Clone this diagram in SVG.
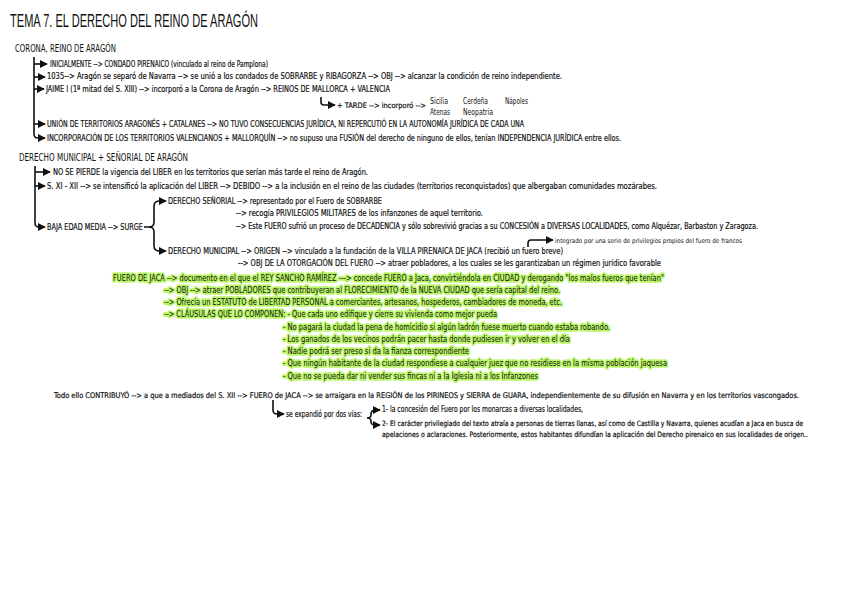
<svg xmlns="http://www.w3.org/2000/svg" width="848" height="600" viewBox="0 0 848 600">
<style>
text{font-family:"Liberation Sans Narrow","DejaVu Sans Condensed","Liberation Sans",Arial,sans-serif;fill:#111}
.t{font-size:9.5px;stroke:#111;stroke-width:0.2px}
.s{font-size:6.5px}
.k{font-size:8px}
.h{font-size:11px}
.ttl{font-size:19px;font-family:"Liberation Sans Narrow","Liberation Sans",sans-serif}
.g{stroke:#b9f565;stroke-width:3.6px;stroke-linejoin:round;paint-order:stroke}
.c{fill:none;stroke:#111;stroke-width:1.6}
</style>
<defs>
<marker id="ah" viewBox="0 0 10 10" refX="9" refY="5" markerWidth="5" markerHeight="5" orient="auto" markerUnits="strokeWidth"><path d="M0,0L10,5L0,10z" fill="#111"/></marker>
</defs>
<rect width="848" height="600" fill="#fff"/>
<g id="title"><text class="ttl" x="10" y="27" textLength="248" lengthAdjust="spacingAndGlyphs">TEMA 7. EL DERECHO DEL REINO DE ARAGÓN</text></g>

<g id="connectors">
<path class="c" d="M34,57V134Q34,138 38,138H45" marker-end="url(#ah)"/>
<path class="c" d="M34,64H47" marker-end="url(#ah)"/>
<path class="c" d="M34,77H45" marker-end="url(#ah)"/>
<path class="c" d="M34,89H44" marker-end="url(#ah)"/>
<path class="c" d="M34,124H45" marker-end="url(#ah)"/>
<path class="c" d="M321,97V102Q321,105 324,105H335" marker-end="url(#ah)"/>
<path class="c" d="M35,166V223Q35,227 39,227H45" marker-end="url(#ah)"/>
<path class="c" d="M35,172H50" marker-end="url(#ah)"/>
<path class="c" d="M35,186H45" marker-end="url(#ah)"/>
<path class="c" d="M144,227H149Q154,227 154,222V206Q154,201 160,201H166" marker-end="url(#ah)"/>
<path class="c" d="M149,227Q154,227 154,232V246Q154,251 160,251H166" marker-end="url(#ah)"/>
<path class="c" d="M528,247V243Q528,240 531,240H553" marker-end="url(#ah)"/>
<path class="c" d="M273,400V410Q273,414 277,414H284" marker-end="url(#ah)"/>
<path class="c" d="M380,410H376Q371,410 371,414V415Q371,418 367,418Q371,418 371,421V422Q371,425 376,425H380" marker-end="url(#ah)"/>
<path class="c" d="M376,410H380" marker-end="url(#ah)"/>
</g>

<g id="corona">
<text class="h" x="15" y="52" textLength="101" lengthAdjust="spacingAndGlyphs">CORONA, REINO DE ARAGÓN</text>
</g>
<g id="inicialmente"><text class="t" x="50" y="67" textLength="218" lengthAdjust="spacingAndGlyphs">INICIALMENTE --&gt; CONDADO PIRENAICO (vinculado al reino de Pamplona)</text></g>
<g id="n1035"><text class="t" x="47" y="79" textLength="515" lengthAdjust="spacingAndGlyphs">1035--&gt; Aragón se separó de Navarra --&gt; se unió a los condados de SOBRARBE y RIBAGORZA  --&gt; OBJ --&gt; alcanzar la condición de reino independiente.</text></g>
<g id="jaime"><text class="t" x="46" y="92" textLength="344" lengthAdjust="spacingAndGlyphs">JAIME I (1ª mitad del S. XIII) --&gt; incorporó a la Corona de Aragón --&gt; REINOS DE MALLORCA + VALENCIA</text></g>
<g id="tarde">
<text class="t" x="337" y="108" textLength="89" lengthAdjust="spacingAndGlyphs" style="font-size:7.6px">+ TARDE --&gt; incorporó --&gt;</text>
<text class="k" x="430" y="104" textLength="18" lengthAdjust="spacingAndGlyphs">Sicilia</text>
<text class="k" x="430" y="115" textLength="20" lengthAdjust="spacingAndGlyphs">Atenas</text>
<text class="k" x="463" y="104" textLength="25" lengthAdjust="spacingAndGlyphs">Cerdeña</text>
<text class="k" x="463" y="115" textLength="30" lengthAdjust="spacingAndGlyphs">Neopatria</text>
<text class="k" x="505" y="104" textLength="23" lengthAdjust="spacingAndGlyphs">Nápoles</text>
</g>
<g id="union"><text class="t" x="47" y="127" textLength="477" lengthAdjust="spacingAndGlyphs">UNIÓN DE TERRITORIOS ARAGONÉS + CATALANES --&gt; NO TUVO CONSECUENCIAS JURÍDICA, NI REPERCUTIÓ EN LA AUTONOMÍA JURÍDICA DE CADA UNA</text></g>
<g id="incorporacion"><text class="t" x="47" y="141" textLength="574" lengthAdjust="spacingAndGlyphs">INCORPORACIÓN DE LOS TERRITORIOS VALENCIANOS + MALLORQUÍN --&gt; no supuso una FUSIÓN del derecho de ninguno de ellos, tenían INDEPENDENCIA JURÍDICA entre ellos.</text></g>

<g id="derecho-municipal-senorial"><text class="h" x="19" y="161" textLength="169" lengthAdjust="spacingAndGlyphs">DERECHO MUNICIPAL + SEÑORIAL DE ARAGÓN</text></g>
<g id="nosepierde"><text class="t" x="53" y="175" textLength="315" lengthAdjust="spacingAndGlyphs">NO SE PIERDE la vigencia del LIBER en los territorios que serían más tarde el reino de Aragón.</text></g>
<g id="sxi"><text class="t" x="47" y="189" textLength="610" lengthAdjust="spacingAndGlyphs">S. XI - XII --&gt; se intensificó la aplicación del LIBER --&gt; DEBIDO --&gt;  a la inclusión en el reino de las ciudades (territorios reconquistados) que albergaban comunidades mozárabes.</text></g>
<g id="baja"><text class="t" x="47" y="230" textLength="96" lengthAdjust="spacingAndGlyphs">BAJA EDAD MEDIA --&gt; SURGE</text></g>
<g id="senorial">
<text class="t" x="168" y="204" textLength="214" lengthAdjust="spacingAndGlyphs">DERECHO SEÑORIAL --&gt; representado por el Fuero de SOBRARBE</text>
<text class="t" x="236" y="216" textLength="247" lengthAdjust="spacingAndGlyphs">--&gt; recogía PRIVILEGIOS MILITARES de los infanzones de aquel territorio.</text>
<text class="t" x="236" y="229" textLength="522" lengthAdjust="spacingAndGlyphs" style="font-size:8.2px">--&gt; Este FUERO sufrió un proceso de DECADENCIA y sólo sobrevivió gracias a su CONCESIÓN a DIVERSAS LOCALIDADES, como Alquézar, Barbaston y Zaragoza.</text>
</g>
<g id="integrado"><text class="s" x="555" y="243" textLength="187" lengthAdjust="spacingAndGlyphs">integrado por una serie de privilegios propios del fuero de francos</text></g>
<g id="municipal">
<text class="t" x="168" y="254" textLength="395" lengthAdjust="spacingAndGlyphs">DERECHO MUNICIPAL --&gt; ORIGEN --&gt; vinculado a la fundación de la VILLA PIRENAICA DE JACA (recibió un fuero breve)</text>
<text class="t" x="238" y="266" textLength="423" lengthAdjust="spacingAndGlyphs">--&gt; OBJ DE LA OTORGACIÓN DEL FUERO --&gt; atraer pobladores, a los cuales se les garantizaban un régimen jurídico favorable</text>
</g>
<g id="fuero-jaca">
<text class="t g" x="113" y="281" textLength="551" lengthAdjust="spacingAndGlyphs">FUERO DE JACA --&gt; documento en el que el REY SANCHO RAMÍREZ ---&gt;  concede FUERO a Jaca, convirtiéndola en CIUDAD y derogando "los malos fueros que tenían"</text>
<text class="t g" x="164" y="293" textLength="396" lengthAdjust="spacingAndGlyphs">--&gt; OBJ --&gt; atraer POBLADORES que contribuyeran al FLORECIMIENTO de la NUEVA CIUDAD que sería capital del reino.</text>
<text class="t g" x="164" y="305" textLength="398" lengthAdjust="spacingAndGlyphs">--&gt; Ofrecía un ESTATUTO de LIBERTAD PERSONAL a comerciantes, artesanos, hospederos, cambiadores de moneda, etc.</text>
<text class="t g" x="164" y="317" textLength="333" lengthAdjust="spacingAndGlyphs">--&gt;  CLÁUSULAS QUE LO COMPONEN: - Que cada uno edifique y cierre su vivienda como mejor pueda</text>
<text class="t g" x="283" y="330" textLength="327" lengthAdjust="spacingAndGlyphs">- No pagará la ciudad la pena de homicidio si algún ladrón fuese muerto cuando estaba robando.</text>
<text class="t g" x="283" y="342" textLength="287" lengthAdjust="spacingAndGlyphs">- Los ganados de los vecinos podrán pacer hasta donde pudiesen ir y volver en el día</text>
<text class="t g" x="283" y="354" textLength="186" lengthAdjust="spacingAndGlyphs">- Nadie podrá ser preso si da la fianza correspondiente</text>
<text class="t g" x="283" y="366" textLength="384" lengthAdjust="spacingAndGlyphs">- Que ningún habitante de la ciudad respondiese a cualquier juez que no residiese en la misma población jaquesa</text>
<text class="t g" x="283" y="379" textLength="255" lengthAdjust="spacingAndGlyphs">- Que no se pueda dar ni vender sus fincas ni a la Iglesia ni a los Infanzones</text>
</g>
<g id="todo-ello"><text class="t" x="54" y="398" textLength="745" lengthAdjust="spacingAndGlyphs" style="font-size:7.8px">Todo ello CONTRIBUYÓ --&gt;  a que a mediados del S. XII --&gt; FUERO de JACA --&gt; se arraigara en la REGIÓN de los PIRINEOS y SIERRA de GUARA, independientemente de su difusión en Navarra y en los territorios vascongados.</text></g>
<g id="expandio"><text class="t" x="286" y="417" textLength="76" lengthAdjust="spacingAndGlyphs">se expandió por dos vías:</text></g>
<g id="vias">
<text class="t" x="382" y="412" textLength="201" lengthAdjust="spacingAndGlyphs">1- la concesión del Fuero por los monarcas a diversas localidades,</text>
<text class="t" x="382" y="426" textLength="421" lengthAdjust="spacingAndGlyphs" style="font-size:7.4px">2- El carácter privilegiado del texto atraía a personas de tierras llanas, así como de Castilla y Navarra, quienes acudían a Jaca en busca de</text>
<text class="t" x="382" y="437" textLength="426" lengthAdjust="spacingAndGlyphs" style="font-size:7.4px">apelaciones o aclaraciones. Posteriormente, estos habitantes difundían la aplicación del Derecho pirenaico en sus localidades de origen..</text>
</g>
</svg>
